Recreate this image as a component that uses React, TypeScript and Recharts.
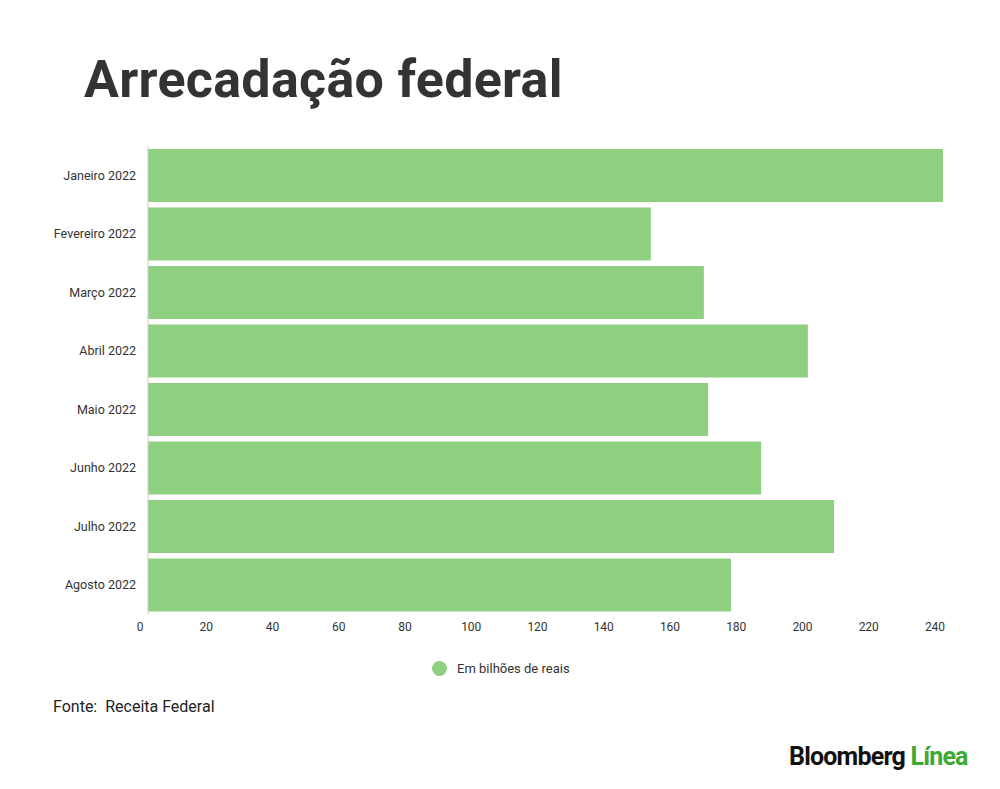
import React from "react";
import { BarChart, Bar, XAxis, YAxis } from "recharts";

const months = [
  "Janeiro 2022",
  "Fevereiro 2022",
  "Março 2022",
  "Abril 2022",
  "Maio 2022",
  "Junho 2022",
  "Julho 2022",
  "Agosto 2022",
];
const values = [240, 151.8, 167.8, 199.2, 169.1, 185.1, 207.1, 176.0];
const xTicks = [0, 20, 40, 60, 80, 100, 120, 140, 160, 180, 200, 220, 240];

const data = months.map((m, i) => ({ month: m, value: values[i] }));
const green = "#8ecf80";
const font = "Roboto, sans-serif";

const App = () => {
  return (
    <div style={{ position: "relative", width: 1000, height: 789, margin: -8, background: "#fff", fontFamily: font }}>
      <div style={{ position: "absolute", left: 84, top: 49, fontSize: 52, fontWeight: 700, color: "#333", letterSpacing: 0.3 }}>
        Arrecadação federal
      </div>
      <div style={{ position: "absolute", left: 0, top: 0 }}>
        <BarChart
          width={1000}
          height={660}
          data={data}
          layout="vertical"
          margin={{ top: 146, right: 57, bottom: 16, left: 8 }}
          barCategoryGap={3}
        >
          <XAxis
            type="number"
            domain={[0, 240]}
            ticks={xTicks}
            axisLine={false}
            tickLine={false}
            height={30}
            tick={{ fontSize: 12, fill: "#333", fontFamily: font, dx: -8 }}
          />
          <YAxis
            type="category"
            dataKey="month"
            width={140}
            axisLine={{ stroke: "#ccc" }}
            tickLine={false}
            tick={{ fontSize: 12.5, fill: "#333", fontFamily: font, dx: -4 }}
          />
          <Bar dataKey="value" fill={green} isAnimationActive={false} />
        </BarChart>
      </div>
      <div style={{ position: "absolute", left: 432, top: 661, display: "flex", alignItems: "center", fontSize: 13, color: "#333" }}>
        <span style={{ width: 15, height: 15, borderRadius: "50%", background: green, display: "inline-block", marginRight: 10 }} />
        Em bilhões de reais
      </div>
      <div style={{ position: "absolute", left: 53, top: 697, fontSize: 16, color: "#222" }}>
        Fonte:&nbsp; Receita Federal
      </div>
      <div style={{ position: "absolute", left: 789, top: 742, fontSize: 25, fontWeight: 700, letterSpacing: -0.8 }}>
        <span style={{ color: "#111" }}>Bloomberg</span>{" "}
        <span style={{ color: "#3daa35" }}>Línea</span>
      </div>
    </div>
  );
};

export default App;
